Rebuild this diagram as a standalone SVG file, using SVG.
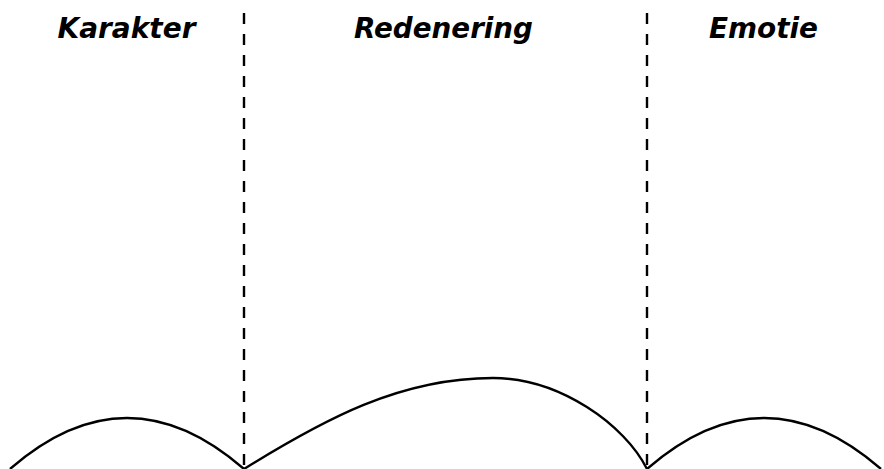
<svg xmlns="http://www.w3.org/2000/svg" width="884" height="469" viewBox="0 0 884 469">
<style>
.lbl{font-family:"DejaVu Sans",sans-serif;font-style:italic;font-weight:700;font-size:27.5px;fill:#000;text-anchor:middle}
.div{stroke:#000;stroke-width:2.4;stroke-dasharray:11 10;fill:none}
.arc{stroke:#000;stroke-width:2.4;fill:none}
</style>
<rect width="884" height="469" fill="#fff"/>
<g id="labels">
<text id="karakter" class="lbl" x="126.5" y="38" textLength="138" lengthAdjust="spacingAndGlyphs">Karakter</text>
<text id="redenering" class="lbl" x="443.5" y="38" textLength="179" lengthAdjust="spacingAndGlyphs">Redenering</text>
<text id="emotie" class="lbl" x="763.5" y="38" textLength="109" lengthAdjust="spacingAndGlyphs">Emotie</text>
</g>
<g id="connectors">
<line class="div" x1="244" y1="13" x2="244" y2="469"/>
<line class="div" x1="647" y1="13" x2="647" y2="469"/>
</g>
<g id="arcs">
<path class="arc" d="M10,469 Q127,367 244,469"/>
<path class="arc" d="M244,469 C324,419.4 400,378 493,378 C560,378 625,425 647,469"/>
<path class="arc" d="M647,469 Q764,367 881,469"/>
</g>
</svg>
